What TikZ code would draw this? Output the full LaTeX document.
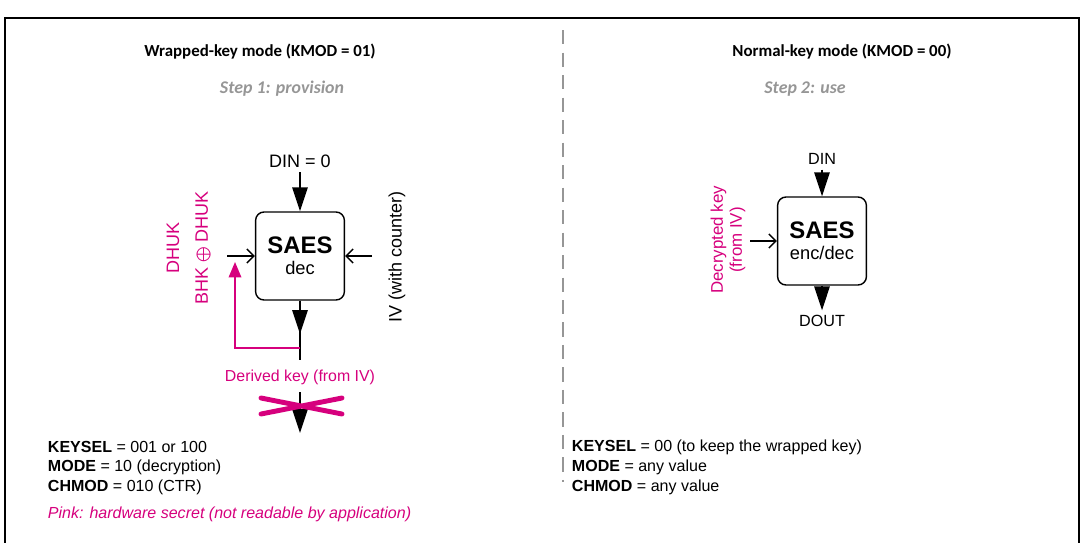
\documentclass[tikz,border=0pt]{standalone}
\usepackage{fontspec}
\setmainfont{Liberation Sans}
\newfontfamily\calfnt{Carlito}
\usetikzlibrary{arrows.meta}
\definecolor{pink}{RGB}{214,0,125}
\definecolor{gr}{RGB}{150,150,150}
\begin{document}
\begin{tikzpicture}[x=0.025cm,y=-0.025cm,
  blk/.style={draw,line width=1pt,rounded corners=6pt,minimum width=2.22cm,minimum height=2.2cm,align=center},
  big/.style={-{Triangle[width=11pt,length=17pt]},line width=1pt},
  opn/.style={-{Straight Barb[width=10pt,length=5pt]},line width=1pt},
  lbl/.style={font=\fontsize{12.8}{15}\selectfont},
  small/.style={font=\fontsize{11.4}{13}\selectfont,anchor=west},
  ttl/.style={font=\calfnt\bfseries\fontsize{12}{14}\selectfont},
  stp/.style={font=\calfnt\bfseries\itshape\fontsize{12.7}{14}\selectfont,text=gr}]
\useasboundingbox (0,0) rectangle (1085,542);
\draw[line width=1pt] (5,560) -- (5,18) -- (1079,18) -- (1079,560);
\draw[gr,dashed,dash pattern=on 10pt off 6pt,line width=0.8pt] (563,30) -- (563,482);
\node[ttl] at (260,52) {Wrapped-key mode (KMOD = 01)};
\node[ttl] at (842,52) {Normal-key mode (KMOD = 00)};
\node[stp] at (282,89) {Step 1: provision};
\node[stp] at (805,89) {Step 2: use};
% left
\node[blk] (s1) at (300,256) {\textbf{\fontsize{17}{19}\selectfont SAES}\\[3pt]{\fontsize{13}{15}\selectfont dec}};
\node[lbl] (din1) at (300,161) {DIN = 0};
\draw[big] (din1.south) -- (s1.north);
\coordinate (inl) at (227,256);
\coordinate (inr) at (372,256);
\draw[opn] (inl) -- (s1.west);
\draw[opn] (inr) -- (s1.east);
\node[lbl,text=pink,rotate=90] (dh) at (173,248) {DHUK};
\node[lbl,text=pink,rotate=90] (bh) at (203,248) {BHK $\bigoplus$ DHUK};
\node[lbl,rotate=90] (iv) at (397,257) {IV (with counter)};
\coordinate (o1) at (300,360);
\coordinate (t1) at (300,334);
\coordinate (br) at (300,348);
\draw[line width=1pt] (s1.south) -- (o1);
\draw[big] (s1.south) -- (t1);
\draw[pink,line width=1pt,-{Triangle[width=9pt,length=11pt]}] (br) -- (235,348) -- (235,262);
\node[font=\fontsize{11.3}{13}\selectfont,text=pink] (dk) at (300,377) {Derived key (from IV)};
\coordinate (o2) at (300,433);
\draw[big] (300,392) -- (o2);
\draw[pink,line width=3.5pt,line cap=round] (261,398) -- (342,414) (261,414) -- (342,398);
\node[small] at (43,447) {\textbf{KEYSEL} = 001 or 100};
\node[small] at (43,467) {\textbf{MODE} = 10 (decryption)};
\node[small] at (43,487) {\textbf{CHMOD} = 010 (CTR)};
\node[small,font=\itshape\fontsize{11.4}{13}\selectfont,text=pink] at (43,514) {Pink: hardware secret (not readable by application)};
% right
\node[blk] (s2) at (822,241) {\textbf{\fontsize{17}{19}\selectfont SAES}\\[3pt]{\fontsize{13}{15}\selectfont enc/dec}};
\node[font=\fontsize{11.5}{13}\selectfont] (din2) at (822,159) {DIN};
\draw[big] (din2.south) -- (s2.north);
\node[font=\fontsize{11.5}{13}\selectfont] (dout) at (822,321) {DOUT};
\draw[big] (s2.south) -- (dout.north);
\coordinate (in2) at (750,241);
\draw[opn] (in2) -- (s2.west);
\node[font=\fontsize{12}{13.5}\selectfont,text=pink,rotate=90,align=center] (dk2) at (728,240) {Decrypted key\\(from IV)};
\node[small] at (567,447) {\textbf{KEYSEL} = 00 (to keep the wrapped key)};
\node[small] at (567,467) {\textbf{MODE} = any value};
\node[small] at (567,487) {\textbf{CHMOD} = any value};
\end{tikzpicture}
\end{document}
